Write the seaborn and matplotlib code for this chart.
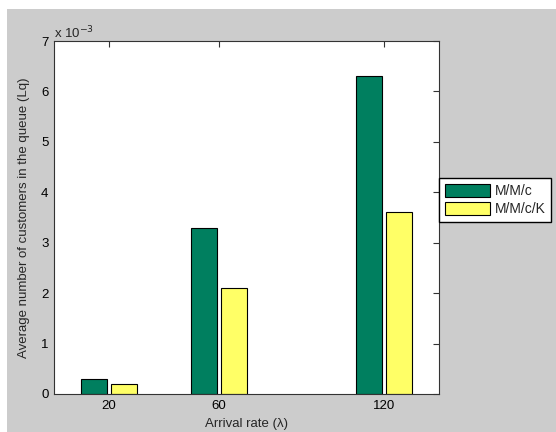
import pandas as pd
import matplotlib
matplotlib.use("Agg")
import matplotlib.pyplot as plt
import seaborn as sns
from matplotlib.ticker import FuncFormatter
from matplotlib.patches import Rectangle

# data (Lq values, x 10^-3)
arrival_rates = [20, 60, 120]
lq_mmc = [0.30e-3, 3.30e-3, 6.30e-3]
lq_mmck = [0.20e-3, 2.10e-3, 3.60e-3]
models = ["M/M/c", "M/M/c/K"]
colors = ["#007F5F", "#FFFF66"]

df = pd.DataFrame({
    "rate": arrival_rates * 2,
    "model": [models[0]] * 3 + [models[1]] * 3,
    "Lq": lq_mmc + lq_mmck,
})

sns.set_style("white")
plt.rcParams["font.family"] = ["Liberation Sans", "DejaVu Sans"]

fig = plt.figure(figsize=(5.56, 4.32), dpi=100, facecolor="white")
# grey MATLAB-like figure area
fig.patches.append(Rectangle((7 / 556, 0), 1, 1 - 9 / 432, transform=fig.transFigure,
                             facecolor="#cccccc", edgecolor="none", zorder=-10))
ax = fig.add_axes([54 / 556, 38 / 432, 385 / 556, 353 / 432])
ax.set_facecolor("white")

sns.barplot(data=df, x="rate", y="Lq", hue="model", native_scale=True,
            palette=colors, saturation=1, width=0.56, gap=0.15, errorbar=None,
            edgecolor="black", linewidth=0.8, ax=ax)

ax.set_xlim(0, 140)
ax.set_ylim(0, 7e-3)
ax.set_xticks(arrival_rates)
ax.set_yticks([i * 1e-3 for i in range(8)])
ax.yaxis.set_major_formatter(FuncFormatter(lambda v, p: f"{v * 1e3:g}"))
ax.tick_params(direction="in", length=4, width=0.8, top=True, right=True,
               labelsize=9.5, colors="#333333", labelcolor="black", pad=4)
for s in ax.spines.values():
    s.set_color("#333333")
    s.set_linewidth(0.8)

ax.set_xlabel("Arrival rate (λ)", fontsize=9.5, labelpad=5)
ax.set_ylabel("Average number of customers in the queue (Lq)", fontsize=9.5, labelpad=8)
ax.text(0, 1.0, r"x 10$^{-3}$", transform=ax.transAxes, fontsize=9.5,
        ha="left", va="bottom")

handles, labels = ax.get_legend_handles_labels()
ax.legend(handles, labels, loc="upper left", bbox_to_anchor=(439 / 556, 1 - 178 / 432),
          bbox_transform=fig.transFigure, borderaxespad=0, fancybox=False,
          framealpha=1, edgecolor="black", fontsize=10, handlelength=3.3,
          handleheight=1.15, handletextpad=0.3, labelspacing=0.25,
          borderpad=0.4, title=None)

fig.savefig("out.png", dpi=100, facecolor=fig.get_facecolor())
